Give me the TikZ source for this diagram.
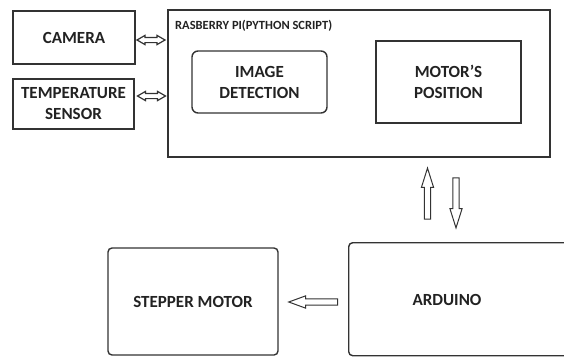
\documentclass[tikz,border=0pt]{standalone}
\usepackage{fontspec}
\setmainfont{Carlito}
\usetikzlibrary{shapes.arrows}
\definecolor{ln}{HTML}{333333}
\definecolor{tx}{HTML}{222222}
\tikzset{
  box/.style={draw=ln, line width=1.4pt, inner sep=0pt, align=center, text=tx,
    font=\fontsize{17}{21}\selectfont\bfseries},
  rbox/.style={box, rounded corners=6pt},
  sbox/.style={box, rounded corners=4pt},
  lbl/.style={text=tx, inner sep=0pt, font=\fontsize{17}{21}\selectfont\bfseries},
  arr/.style={draw=ln, line width=1pt, single arrow, inner sep=2.6pt,
    single arrow head extend=3pt},
  darr/.style={draw=ln, line width=1.2pt, double arrow, inner sep=2pt,
    double arrow head extend=2pt, double arrow tip angle=60, minimum height=28pt},
}
\begin{document}
\begin{tikzpicture}[x=1pt,y=-1pt]
\useasboundingbox (0,0) rectangle (564,356);
\clip (0,0) rectangle (564,356);

\node[box, minimum width=122pt, minimum height=53pt] (cam) at (74,37.5) {CAMERA};
\node[box, minimum width=121pt, minimum height=50pt] (temp) at (73.5,104) {TEMPERATURE\\SENSOR};

\node[box, minimum width=382pt, minimum height=147pt] (rpi) at (359,83.5) {};
\node[anchor=west, text=tx, inner sep=0pt, font=\fontsize{12.5}{14}\selectfont\bfseries] (rpilbl) at (175,25.5) {RASBERRY PI(PYTHON SCRIPT)};

\node[rbox, minimum width=135pt, minimum height=62pt] (img) at (259.5,82) {IMAGE\\DETECTION};
\node[box, minimum width=145pt, minimum height=82pt] (mot) at (448.5,82) {MOTOR'S\\POSITION};

\node[sbox, minimum width=170pt, minimum height=107pt] (step) at (193,301.5) {STEPPER MOTOR};
\node[sbox, anchor=north west, minimum width=270pt, minimum height=113pt] (ard) at (348,242) {};
\node[lbl] (ardtxt) at (447,300) {ARDUINO};

% connectors (block arrows)
\node[darr] (a1) at (151,40) {};
\node[darr] (a2) at (151.5,96) {};
\node[arr, shape border rotate=90, single arrow tip angle=35, minimum height=51pt] (up) at (427.5,198.5) {};
\node[arr, shape border rotate=270, single arrow tip angle=35, minimum height=50pt] (down) at (456,198) {};
\node[arr, shape border rotate=180, single arrow tip angle=40, minimum height=49pt] (left) at (317.5,302) {};
\end{tikzpicture}
\end{document}
